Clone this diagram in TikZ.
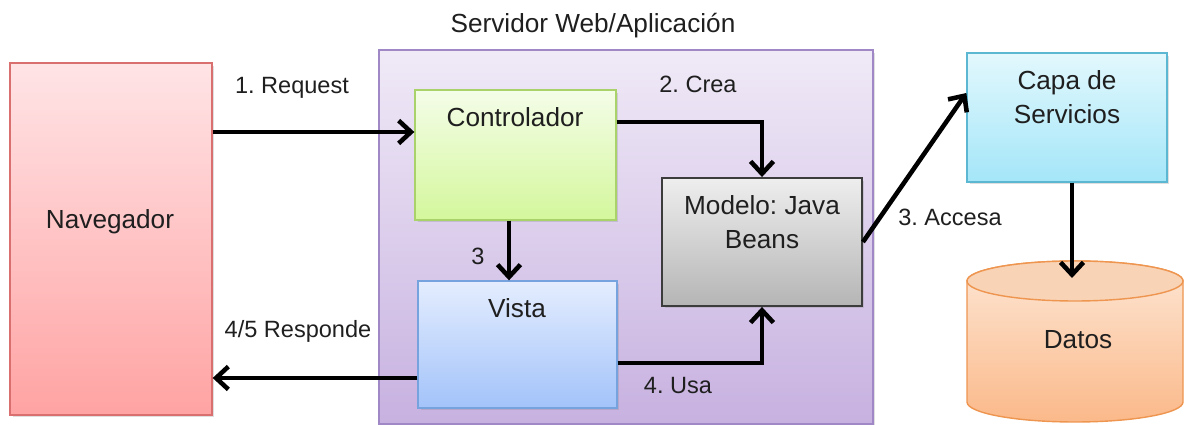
\documentclass[tikz,border=0pt]{standalone}
\usepackage{fontspec}
\setmainfont{Liberation Sans}
\usetikzlibrary{positioning, arrows.meta, shadows}
\frenchspacing

\definecolor{navA}{HTML}{FFE4E6}
\definecolor{navB}{HTML}{FFA3A3}
\definecolor{navC}{HTML}{D9706F}
\definecolor{servA}{HTML}{F0EAF7}
\definecolor{servB}{HTML}{C7B1E0}
\definecolor{servC}{HTML}{A088C6}
\definecolor{ctrlA}{HTML}{F4FDE8}
\definecolor{ctrlB}{HTML}{D4F79C}
\definecolor{ctrlC}{HTML}{A9D26B}
\definecolor{vistaA}{HTML}{E4EDFE}
\definecolor{vistaB}{HTML}{A3C3FA}
\definecolor{vistaC}{HTML}{76A2DD}
\definecolor{modA}{HTML}{EEEEEE}
\definecolor{modB}{HTML}{B5B5B5}
\definecolor{modC}{HTML}{3C3C3C}
\definecolor{capaA}{HTML}{E2F8FD}
\definecolor{capaB}{HTML}{A4E6F8}
\definecolor{capaC}{HTML}{5CB8D2}
\definecolor{datA}{HTML}{FDE6D4}
\definecolor{datB}{HTML}{FBB98A}
\definecolor{datC}{HTML}{EE9550}
\definecolor{datD}{HTML}{F9D3B5}

\tikzset{
  caja/.style={draw, line width=0.8pt, inner sep=0pt,
    drop shadow={shadow xshift=0.05cm, shadow yshift=-0.05cm, opacity=0.25}},
  texto/.style={font=\fontsize{14.9}{19}\selectfont, align=center, text=black!88},
  etiqueta/.style={font=\fontsize{13.4}{16}\selectfont, text=black!88},
  flecha/.style={line width=2.6pt, -{Straight Barb[length=7pt,width=13pt]}}
}

\begin{document}
\begin{tikzpicture}[x=0.02cm, y=-0.02cm]

\useasboundingbox (0,0) rectangle (1184,425);

% ---------- CAJAS ----------

\node[caja, top color=servA, bottom color=servB, draw=servC,
  minimum width=9.88cm, minimum height=7.48cm] (serv) at (626,237) {};
\node[texto] (servt) at (593,26) {Servidor Web/Aplicación};

\node[caja, top color=navA, bottom color=navB, draw=navC,
  minimum width=4.04cm, minimum height=7.04cm] (nav) at (111,239) {};
\node[texto] (navt) at (110,222) {Navegador};

\node[caja, top color=ctrlA, bottom color=ctrlB, draw=ctrlC,
  minimum width=4.02cm, minimum height=2.6cm] (ctrl) at (515.5,155) {};
\node[texto] (ctrlt) at (515,117) {Controlador};

\node[caja, top color=vistaA, bottom color=vistaB, draw=vistaC,
  minimum width=3.98cm, minimum height=2.54cm] (vista) at (517.5,344.5) {};
\node[texto] (vistat) at (517,308) {Vista};

\node[caja, top color=modA, bottom color=modB, draw=modC, line width=1.1pt,
  minimum width=4cm, minimum height=2.56cm] (modelo) at (762,242) {};
\node[texto] (modelot) at (762,222) {Modelo: Java\\Beans};

\node[caja, top color=capaA, bottom color=capaB, draw=capaC,
  minimum width=4cm, minimum height=2.58cm] (capa) at (1067,117.5) {};
\node[texto] (capat) at (1067,97) {Capa de\\Servicios};

% ---------- DATOS ----------

\shadedraw[top color=datA, bottom color=datB, draw=datC, line width=0.8pt]
  (967,281) -- (967,402) arc[start angle=180, end angle=0, x radius=108, y radius=20]
  -- (1183,281) arc[start angle=0, end angle=-180, x radius=108, y radius=20] -- cycle;
\filldraw[fill=datD, draw=datC, line width=0.8pt] (1075,281) ellipse[x radius=108, y radius=20];
\coordinate (dtop) at (1075,278);
\node[texto] (datos) at (1078,340) {Datos};

% ---------- FLECHAS ----------

\draw[flecha] ([yshift=0.46cm]ctrl.west -| nav.east) -- ([yshift=0.46cm]ctrl.west);
\node[etiqueta] (req) at (292,88) {1. Request};

\draw[flecha] ([yshift=0.66cm]ctrl.east) -| (modelo.north);
\node[etiqueta] (crea) at (698,84) {2. Crea};

\draw[flecha] ([xshift=-0.13cm]ctrl.south) -- ([xshift=-0.13cm]ctrl.south |- vista.north);
\node[etiqueta] (tres) at (478,256) {3};

\draw[flecha] ([yshift=-0.37cm]vista.east) -| (modelo.south);
\node[etiqueta] (usa) at (678,386) {4. Usa};

\draw[flecha] ([yshift=-0.67cm]vista.west) -- ([yshift=-0.67cm]vista.west -| nav.east);
\node[etiqueta] (resp) at (298,331) {4/5 Responde};

\draw[flecha] (modelo.east) -- ([yshift=0.49cm]capa.west);
\node[etiqueta] (acc) at (950,217) {3. Accesa};

\draw[flecha] ([xshift=0.1cm]capa.south) -- ([xshift=0.1cm]capa.south |- dtop);

\end{tikzpicture}
\end{document}
